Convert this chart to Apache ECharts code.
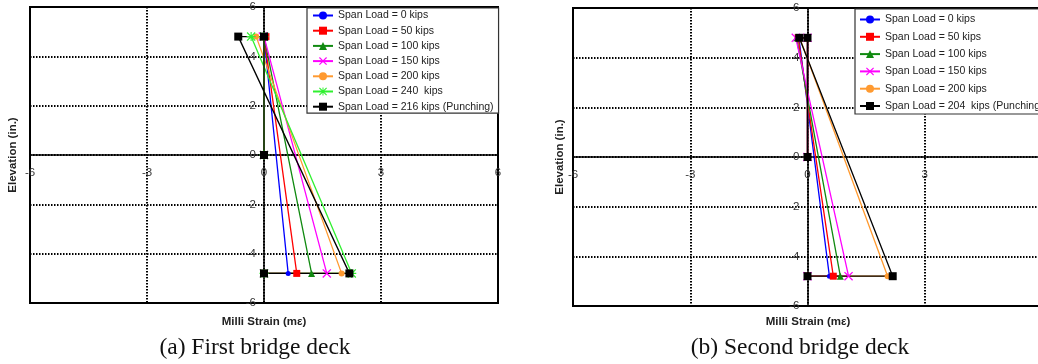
<!DOCTYPE html>
<html>
<head>
<meta charset="utf-8">
<script src="https://cdn.jsdelivr.net/npm/echarts@6/dist/echarts.min.js"></script>
<style>
html,body{margin:0;padding:0;background:#fff;}
#main{width:1038px;height:364px;}
</style>
</head>
<body>
<div id="main"></div>
<script>
/// strain profile data, gauges at top / mid / bottom of the deck (elevation in.)
var elevLevels = [0, 4.8, 4.8, -4.8, -4.8];

/// (a) first bridge deck
var namesA = ['Span Load = 0 kips', 'Span Load = 50 kips', 'Span Load = 100 kips', 'Span Load = 150 kips',
	'Span Load = 200 kips', 'Span Load = 240  kips', 'Span Load = 216 kips (Punching)'];
var topStrainA = [0.03, 0.05, -0.05, -0.03, -0.2, -0.33, -0.66];
var botStrainA = [0.62, 0.84, 1.22, 1.61, 1.99, 2.25, 2.19];

/// (b) second bridge deck
var namesB = ['Span Load = 0 kips', 'Span Load = 50 kips', 'Span Load = 100 kips', 'Span Load = 150 kips',
	'Span Load = 200 kips', 'Span Load = 204  kips (Punching)'];
var topStrainB = [-0.22, -0.24, -0.28, -0.3, -0.2, -0.21];
var botStrainB = [0.56, 0.66, 0.84, 1.05, 2.05, 2.18];

/// axis ticks
var xMin = -6, xMax = 6, xStep = 3;
var yMin = -6, yMax = 6, yStep = 2;

var colorsA = ['#0000ff', '#ff0000', '#108a10', '#ff00ff', '#ff9a30', '#30f030', '#000000'];
var colorsB = ['#0000ff', '#ff0000', '#108a10', '#ff00ff', '#ff9a30', '#000000'];
var xMark = 'path://M0,1L1,0L5,4L9,0L10,1L6,5L10,9L9,10L5,6L1,10L0,9L4,5Z';
var starMark = 'path://M0,1L1,0L5,4L9,0L10,1L6,5L10,9L9,10L5,6L1,10L0,9L4,5ZM4.4,0L5.6,0L5.6,10L4.4,10ZM0,4.4L10,4.4L10,5.6L0,5.6Z';
var symbolsA = ['circle', 'rect', 'triangle', xMark, 'circle', starMark, 'rect'];
var symbolsB = ['circle', 'rect', 'triangle', xMark, 'circle', 'rect'];
var sizesA = [5, 7, 7, 9, 6, 9, 8];
var sizesB = [5, 7, 7, 9, 6, 8];

/// grid geometry (axes cross at the origin, in the middle of each box)
var gridA = {left: 30, top: 7, width: 468, height: 296};
var gridB = {left: 573, top: 8, width: 469, height: 298};

function profileData(top, bot){
	var strains = [0, 0, top, bot, 0];
	var arr = [];
	for (var i = 0; i < strains.length; i++){
		arr.push([strains[i], elevLevels[i]]);
	}
	return arr;
}

function buildSeries(names, tops, bots, colors, symbols, sizes, idx){
	var list = [];
	for (var i = 0; i < names.length; i++){
		list.push({
			name: names[i],
			type: 'line',
			xAxisIndex: idx,
			yAxisIndex: idx,
			data: profileData(tops[i], bots[i]),
			symbol: symbols[i],
			symbolSize: sizes[i],
			showAllSymbol: true,
			color: colors[i],
			lineStyle: {width: 1.3, color: colors[i]},
			itemStyle: {color: colors[i]},
			clip: false,
			animation: false
		});
	}
	return list;
}

function makeX(idx, g){
	return {
		type: 'value', gridIndex: idx, min: xMin, max: xMax, interval: xStep,
		position: 'bottom', offset: -g.height / 2,
		axisLine: {onZero: false, lineStyle: {color: '#000', width: 1.5}},
		axisTick: {show: false},
		axisLabel: {color: '#333', fontSize: 11.5, margin: 12, fontFamily: 'Liberation Sans', showMinLabel: true, showMaxLabel: true},
		splitLine: {show: true, lineStyle: {color: '#000', width: 2, type: [1.5, 1.5]}}
	};
}
function makeY(idx, g){
	return {
		type: 'value', gridIndex: idx, min: yMin, max: yMax, interval: yStep,
		position: 'left', offset: -g.width / 2,
		axisLine: {onZero: false, lineStyle: {color: '#000', width: 1.5}},
		axisTick: {show: false},
		axisLabel: {color: '#333', fontSize: 11.5, margin: 8, fontFamily: 'Liberation Sans', showMinLabel: true, showMaxLabel: true},
		splitLine: {show: true, lineStyle: {color: '#000', width: 2, type: [1.5, 1.5]}}
	};
}

var legendBase = {
	orient: 'vertical',
	selectedMode: false,
	itemWidth: 20,
	itemHeight: 10,
	backgroundColor: '#fff',
	borderColor: '#333',
	borderWidth: 1.2,
	borderRadius: 0,
	textStyle: {fontSize: 10.5, lineHeight: 10, color: '#222', fontFamily: 'Liberation Sans'},
	z: 10
};

var legendA = Object.assign({}, legendBase, {data: namesA, left: 307, top: 8, itemGap: 4.2, padding: [2, 5, 1, 5]});
var legendB = Object.assign({}, legendBase, {data: namesB, left: 855, top: 9, itemGap: 6.3, padding: [5, 6, 2.5, 4]});

var titleFont = 'bold 11.5px "Liberation Sans"';
var capFont = '23.5px "Liberation Serif"';

var gridStyle = {show: true, borderColor: '#000', borderWidth: 2, backgroundColor: '#fff', outerBoundsMode: 'none', containLabel: false};

var option = {
	backgroundColor: '#fff',
	animation: false,
	grid: [
		Object.assign({}, gridStyle, gridA),
		Object.assign({}, gridStyle, gridB)
	],
	xAxis: [makeX(0, gridA), makeX(1, gridB)],
	yAxis: [makeY(0, gridA), makeY(1, gridB)],
	legend: [legendA, legendB],
	series: buildSeries(namesA, topStrainA, botStrainA, colorsA, symbolsA, sizesA, 0)
		.concat(buildSeries(namesB, topStrainB, botStrainB, colorsB, symbolsB, sizesB, 1)),
	graphic: [
		{type: 'text', x: 13, y: 155, rotation: Math.PI / 2,
			style: {text: 'Elevation (in.)', font: titleFont, fill: '#222', align: 'center', verticalAlign: 'middle'}},
		{type: 'text', x: 560, y: 157, rotation: Math.PI / 2,
			style: {text: 'Elevation (in.)', font: titleFont, fill: '#222', align: 'center', verticalAlign: 'middle'}},
		{type: 'text', x: 264, y: 322,
			style: {text: 'Milli Strain (mε)', font: titleFont, fill: '#222', align: 'center', verticalAlign: 'middle'}},
		{type: 'text', x: 808, y: 322,
			style: {text: 'Milli Strain (mε)', font: titleFont, fill: '#222', align: 'center', verticalAlign: 'middle'}},
		{type: 'text', x: 255, y: 348,
			style: {text: '(a) First bridge deck', font: capFont, fill: '#111', align: 'center', verticalAlign: 'middle'}},
		{type: 'text', x: 800, y: 348,
			style: {text: '(b) Second bridge deck', font: capFont, fill: '#111', align: 'center', verticalAlign: 'middle'}}
	]
};

var myChart = echarts.init(document.getElementById('main'), null, {renderer: 'canvas'});
myChart.setOption(option);
</script>
</body>
</html>
